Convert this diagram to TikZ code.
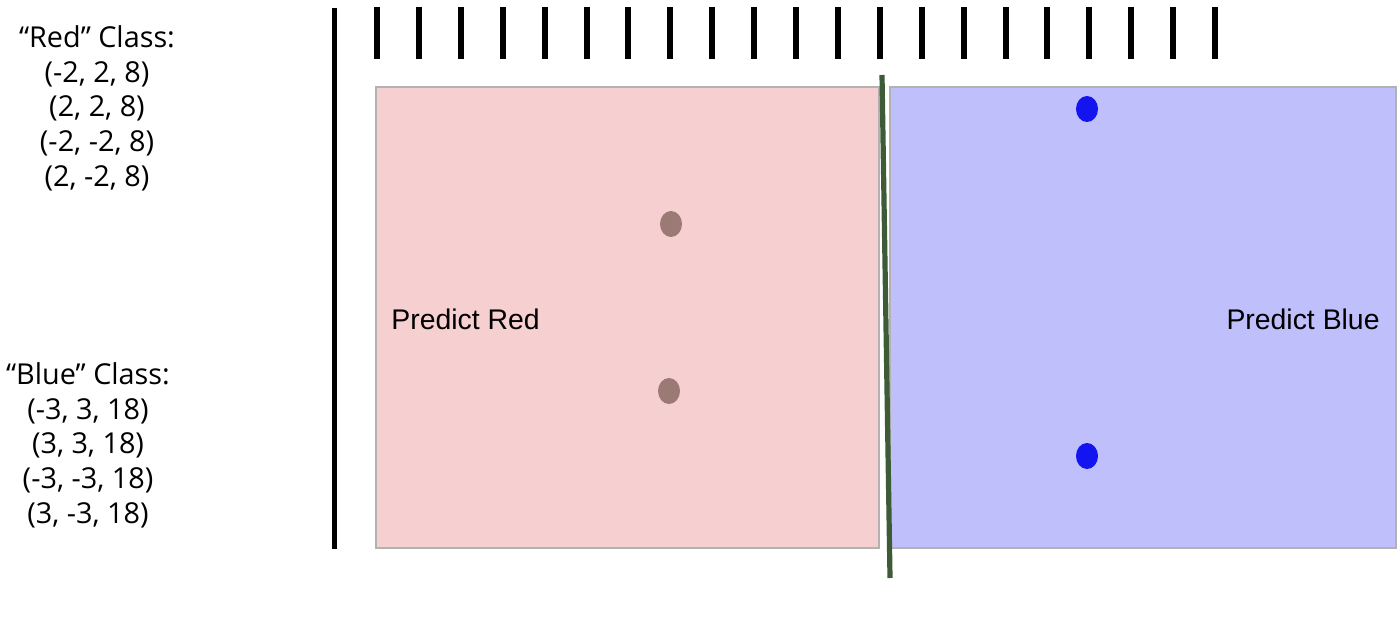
\documentclass[tikz,border=0pt]{standalone}
\usepackage{fontspec}
\setmainfont{Open Sans}
\newfontfamily\arialf{Liberation Sans}
\begin{document}
\begin{tikzpicture}[x=0.5pt,y=-0.5pt,
  axisline/.style={line width=2.6pt,black},
  tick/.style={line width=3pt,black},
  region/.style={draw=black!30,line width=0.7pt},
  reddot/.style={ellipse,fill=redpt,minimum width=11pt,minimum height=13pt,inner sep=0pt},
  bluedot/.style={ellipse,fill=bluept,minimum width=11pt,minimum height=13pt,inner sep=0pt},
  classlbl/.style={align=center,font=\fontsize{14.4}{17.4}\selectfont,inner sep=0pt},
  predlbl/.style={font=\arialf\fontsize{14.2}{17}\selectfont,inner sep=0pt}]
\usetikzlibrary{shapes.geometric}
\definecolor{redfill}{HTML}{F6D0D0}
\definecolor{bluefill}{HTML}{BFBFFB}
\definecolor{redpt}{HTML}{9B7A76}
\definecolor{bluept}{HTML}{1414F0}
\definecolor{sepgreen}{HTML}{3D5B36}
\useasboundingbox (0,0) rectangle (1400,619);
% regions
\path[region,fill=redfill] (376,87) rectangle (879,548);
\path[region,fill=bluefill] (890,87) rectangle (1396,548);
% axis
\coordinate (axtop) at (334.5,8);
\coordinate (axbot) at (334.5,549);
\draw[axisline] (axtop) -- (axbot);
% ticks
\foreach \i in {0,...,20}{
  \coordinate (t\i a) at ({377+41.9*\i},7);
  \coordinate (t\i b) at ({377+41.9*\i},59);
  \draw[tick] (t\i a) -- (t\i b);
}
% separator
\coordinate (sepa) at (882,75);
\coordinate (sepb) at (890,578);
\draw[line width=2.6pt,sepgreen] (sepa) -- (sepb);
% points
\node[reddot] (r1) at (671,224) {};
\node[reddot] (r2) at (669,391) {};
\node[bluedot] (b1) at (1087,109) {};
\node[bluedot] (b2) at (1087,456) {};
% labels
\node[predlbl,anchor=west] (pr) at (391,319) {Predict Red};
\node[predlbl,anchor=east] (pb) at (1380,319) {Predict Blue};
\node[classlbl,anchor=north] (rc) at (97,25) {“Red” Class:\\(-2, 2, 8)\\(2, 2, 8)\\(-2, -2, 8)\\(2, -2, 8)};
\node[classlbl,anchor=north] (bc) at (88,362) {“Blue” Class:\\(-3, 3, 18)\\(3, 3, 18)\\(-3, -3, 18)\\(3, -3, 18)};
\end{tikzpicture}
\end{document}
